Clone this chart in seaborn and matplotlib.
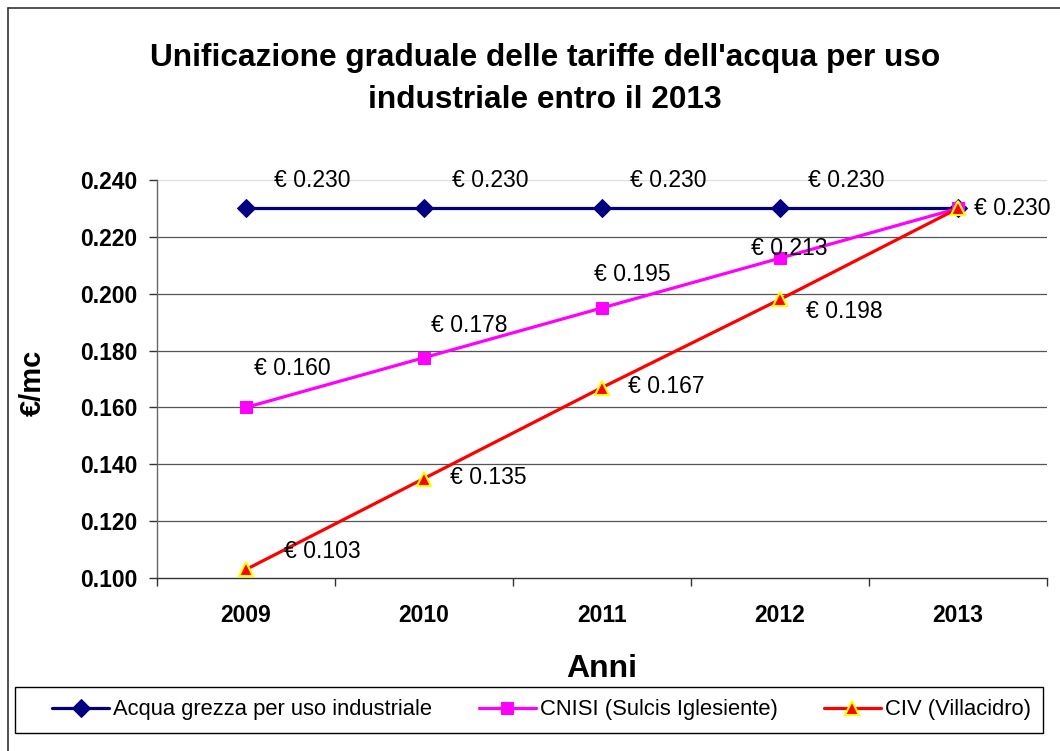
import matplotlib
matplotlib.use("Agg")
import matplotlib.pyplot as plt
import seaborn as sns
import numpy as np
from matplotlib.lines import Line2D
from matplotlib.patches import Rectangle

# ---- Data ----
anni = ["2009", "2010", "2011", "2012", "2013"]
acqua_grezza = [0.230, 0.230, 0.230, 0.230, 0.230]
cnisi = [0.160, 0.1775, 0.195, 0.2125, 0.230]
civ = [0.103, 0.135, 0.167, 0.198, 0.230]
cnisi_labels = ["0.160", "0.178", "0.195", "0.213", "0.230"]
y_ticks = [0.100, 0.120, 0.140, 0.160, 0.180, 0.200, 0.220, 0.240]

sns.set_theme(style="white")
plt.rcParams["font.family"] = ["Liberation Sans", "DejaVu Sans"]
plt.rcParams["text.color"] = "black"
plt.rcParams["axes.labelcolor"] = "black"
plt.rcParams["xtick.color"] = "black"
plt.rcParams["ytick.color"] = "black"

fig = plt.figure(figsize=(10.6, 7.51), dpi=100)
ax = fig.add_axes([157 / 1060, 1 - 578 / 751, (1047 - 157) / 1060, (578 - 180) / 751])

x = np.arange(len(anni))

sns.lineplot(x=x, y=acqua_grezza, ax=ax, color="#000080", lw=2.3, marker="D",
             markersize=9, markeredgecolor="#000080", label="Acqua grezza per uso industriale")
sns.lineplot(x=x, y=cnisi, ax=ax, color="#FF00FF", lw=2.3, marker="s",
             markersize=9, markeredgecolor="#FF00FF", label="CNISI (Sulcis Iglesiente)")
sns.lineplot(x=x, y=civ, ax=ax, color="#FF0000", lw=2.3, marker="^",
             markersize=10, markeredgecolor="#FFFF00", markeredgewidth=1.5,
             label="CIV (Villacidro)")

# data labels (offsets in points)
lab_fs = 16.5
for i, v in enumerate(acqua_grezza[:4]):
    ax.annotate(f"€ {v:.3f}", (x[i], v), xytext=(20, 20), textcoords="offset points",
                fontsize=lab_fs, ha="left", va="center")
cnisi_off = [(6, 28), (5, 23), (-6, 24), (-21, 7), (11.5, 0)]
for i in range(5):
    ax.annotate(f"€ {cnisi_labels[i]}", (x[i], cnisi[i]), xytext=cnisi_off[i],
                textcoords="offset points", fontsize=lab_fs, ha="left", va="center",
                annotation_clip=False)
civ_off = [(27, 13), (19, 1), (19, 1), (19, -9)]
for i in range(4):
    ax.annotate(f"€ {civ[i]:.3f}", (x[i], civ[i]), xytext=civ_off[i],
                textcoords="offset points", fontsize=lab_fs, ha="left", va="center")

# axes
ax.set_xlim(-0.5, len(anni) - 0.5)
ax.set_ylim(0.100, 0.240)
ax.set_yticks(y_ticks)
ax.set_yticklabels([f"{t:.3f}" for t in y_ticks], fontsize=16.5, fontweight="bold")
ax.set_xticks(x)
ax.set_xticklabels(anni, fontsize=16.5, fontweight="bold")
ax.set_xticks(np.arange(-0.5, len(anni)), minor=True)
ax.tick_params(axis="x", which="major", length=0, pad=19)
ax.tick_params(axis="x", which="minor", length=6, width=1, color="#333333", direction="out")
ax.tick_params(axis="y", length=6, width=1, color="#333333", direction="out", pad=8)
ax.xaxis.set_ticks_position("bottom")
ax.yaxis.set_ticks_position("left")

ax.grid(False)
for t in y_ticks[1:-1]:
    ax.axhline(t, color="#555555", lw=0.9, zorder=0)
ax.axhline(0.240, color="#dddddd", lw=0.9, zorder=0)

for s in ["top", "right"]:
    ax.spines[s].set_visible(False)
ax.spines["left"].set_color("#666666")
ax.spines["bottom"].set_color("#333333")
ax.spines["left"].set_linewidth(1)
ax.spines["bottom"].set_linewidth(1)

ax.set_xlabel("Anni", fontsize=23, fontweight="bold", labelpad=19)
ax.set_ylabel("€/mc", fontsize=21, fontweight="bold")
ax.yaxis.set_label_coords(-0.1236, 0.49)

fig.suptitle("Unificazione graduale delle tariffe dell'acqua per uso\nindustriale entro il 2013",
             x=545 / 1060, y=1 - 43 / 751, fontsize=22.8, fontweight="bold",
             linespacing=1.5, va="top")

# legend
ax.get_legend().remove()
handles, labels = ax.get_legend_handles_labels()
fig.add_artist(Rectangle((15 / 1060, 1 - 733 / 751), (1043 - 15) / 1060, 46 / 751,
                         transform=fig.transFigure, fill=False, edgecolor="black", lw=1))
fig.legend(handles, labels, loc="center left", ncol=3,
           bbox_to_anchor=(52 / 1060, 1 - 710 / 751),
           fontsize=15.8, frameon=False, borderpad=0, borderaxespad=0,
           handlelength=2.6, handletextpad=0.2, columnspacing=2.1)

# outer chart border (left and top edges)
fig.add_artist(Line2D([8 / 1060, 8 / 1060], [0, 1 - 8 / 751], color="#333333", lw=1.2))
fig.add_artist(Line2D([8 / 1060, 1], [1 - 8 / 751, 1 - 8 / 751], color="#333333", lw=1.2))

fig.savefig("out.png", dpi=100)
